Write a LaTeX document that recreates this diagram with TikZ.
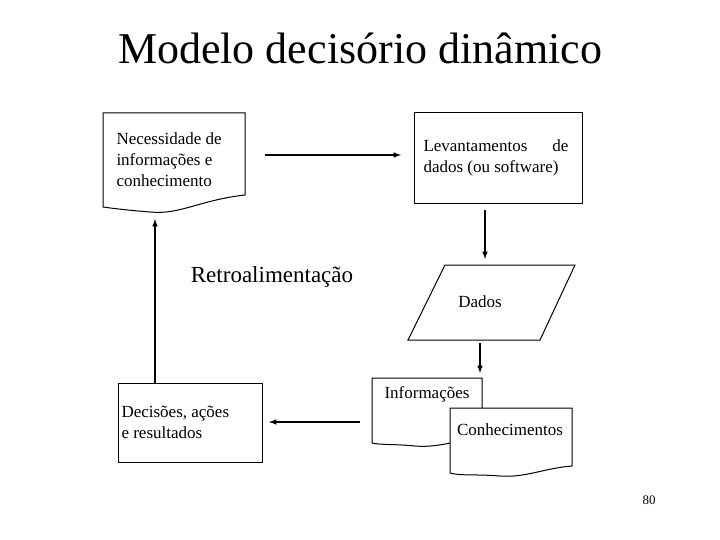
\documentclass[tikz,border=0pt]{standalone}
\usepackage{fontspec}
\setmainfont{Liberation Serif}
\begin{document}
\begin{tikzpicture}[x=1pt,y=-1pt,>=latex,line width=1pt,
	txt/.style={font=\fontsize{17}{21}\selectfont,align=left,inner sep=0pt},
	flow/.style={->,line width=1.5pt}]
	\useasboundingbox (0,0) rectangle (720,540);
	% title
	\node[font=\fontsize{44}{50}\selectfont] (title) at (360,48) {Modelo decisório dinâmico};

	% document: necessidade
	\draw[fill=white] (103,113) -- (245,113) -- (245,195) .. controls (200,200) and (180,215) .. (150,212) .. controls (125,210) and (110,208) .. (103,207) -- cycle;
	\node[txt,anchor=north west] (need) at (116,132) {Necessidade de\\informações e\\conhecimento};

	% levantamentos
	\draw (414,113) rectangle (582,204);
	\node[txt,anchor=north west,text width=145pt,align=justify] (lev) at (423,139) {Levantamentos\hfill de\\dados (ou software)};

	% dados
	\draw (445,265) -- (575,265) -- (540,340) -- (408,340) -- cycle;
	\node[txt] (dados) at (480,302) {Dados};

	% informacoes / conhecimentos
	\draw[fill=white] (372,378) -- (482,378) -- (482,438) .. controls (455,440) and (440,448) .. (415,446) .. controls (395,444) and (380,445) .. (372,443) -- cycle;
	\node[txt] (info) at (427,394) {Informações};
	\draw[fill=white] (450,408) -- (572,408) -- (572,466) .. controls (545,468) and (525,478) .. (500,476) .. controls (475,474) and (460,476) .. (450,473) -- cycle;
	\node[txt] (conh) at (510,430) {Conhecimentos};

	% decisoes
	\draw (118,383) rectangle (262,462);
	\node[txt,anchor=north west] (dec) at (121,406) {Decisões, ações\\e resultados};

	% arrows
	\coordinate (a1) at (265,155); \coordinate (a2) at (401,155);
	\coordinate (b1) at (485,210); \coordinate (b2) at (485,259);
	\coordinate (c1) at (480,343); \coordinate (c2) at (480,373);
	\coordinate (d1) at (360,422); \coordinate (d2) at (269,422);
	\coordinate (e1) at (155,383); \coordinate (e2) at (155,219);
	\foreach \s/\t in {a1/a2,b1/b2,c1/c2,d1/d2,e1/e2}
		\draw[flow] (\s) -- (\t);

	\node[font=\fontsize{23}{27}\selectfont] (retro) at (272,277) {Retroalimentação};
	\node[font=\fontsize{13}{15}\selectfont] (page) at (649,500) {80};
\end{tikzpicture}
\end{document}
